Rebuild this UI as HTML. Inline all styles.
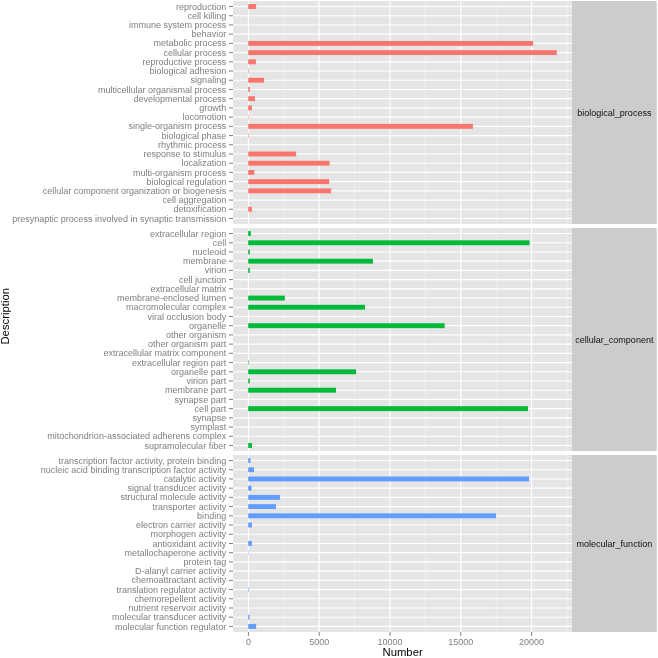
<!DOCTYPE html>
<html lang="en"><head><meta charset="utf-8"><title>GO classification</title>
<style>html,body{margin:0;padding:0;background:#fff}svg{display:block;filter:blur(0.35px)}text{font-family:"Liberation Sans",Arial,Helvetica,sans-serif}.al{font-size:9.02px;fill:#7F7F7F}.st{font-size:9.02px;fill:#111}.ti{font-size:11.3px;fill:#000}</style></head><body>
<svg width="658" height="658" viewBox="0 0 658 658">
<rect width="658" height="658" fill="#fff"/>
<g>
<rect x="233.00" y="1.00" width="339.00" height="223.03" fill="#E5E5E5"/>
<line x1="283.80" x2="283.80" y1="1.00" y2="224.03" stroke="#F2F2F2" stroke-width="0.7"/>
<line x1="354.60" x2="354.60" y1="1.00" y2="224.03" stroke="#F2F2F2" stroke-width="0.7"/>
<line x1="425.40" x2="425.40" y1="1.00" y2="224.03" stroke="#F2F2F2" stroke-width="0.7"/>
<line x1="496.20" x2="496.20" y1="1.00" y2="224.03" stroke="#F2F2F2" stroke-width="0.7"/>
<line x1="567.00" x2="567.00" y1="1.00" y2="224.03" stroke="#F2F2F2" stroke-width="0.7"/>
<line x1="233.00" x2="572.00" y1="6.53" y2="6.53" stroke="#fff" stroke-width="1.15"/>
<line x1="233.00" x2="572.00" y1="15.75" y2="15.75" stroke="#fff" stroke-width="1.15"/>
<line x1="233.00" x2="572.00" y1="24.96" y2="24.96" stroke="#fff" stroke-width="1.15"/>
<line x1="233.00" x2="572.00" y1="34.18" y2="34.18" stroke="#fff" stroke-width="1.15"/>
<line x1="233.00" x2="572.00" y1="43.39" y2="43.39" stroke="#fff" stroke-width="1.15"/>
<line x1="233.00" x2="572.00" y1="52.61" y2="52.61" stroke="#fff" stroke-width="1.15"/>
<line x1="233.00" x2="572.00" y1="61.83" y2="61.83" stroke="#fff" stroke-width="1.15"/>
<line x1="233.00" x2="572.00" y1="71.04" y2="71.04" stroke="#fff" stroke-width="1.15"/>
<line x1="233.00" x2="572.00" y1="80.26" y2="80.26" stroke="#fff" stroke-width="1.15"/>
<line x1="233.00" x2="572.00" y1="89.47" y2="89.47" stroke="#fff" stroke-width="1.15"/>
<line x1="233.00" x2="572.00" y1="98.69" y2="98.69" stroke="#fff" stroke-width="1.15"/>
<line x1="233.00" x2="572.00" y1="107.91" y2="107.91" stroke="#fff" stroke-width="1.15"/>
<line x1="233.00" x2="572.00" y1="117.12" y2="117.12" stroke="#fff" stroke-width="1.15"/>
<line x1="233.00" x2="572.00" y1="126.34" y2="126.34" stroke="#fff" stroke-width="1.15"/>
<line x1="233.00" x2="572.00" y1="135.55" y2="135.55" stroke="#fff" stroke-width="1.15"/>
<line x1="233.00" x2="572.00" y1="144.77" y2="144.77" stroke="#fff" stroke-width="1.15"/>
<line x1="233.00" x2="572.00" y1="153.99" y2="153.99" stroke="#fff" stroke-width="1.15"/>
<line x1="233.00" x2="572.00" y1="163.20" y2="163.20" stroke="#fff" stroke-width="1.15"/>
<line x1="233.00" x2="572.00" y1="172.42" y2="172.42" stroke="#fff" stroke-width="1.15"/>
<line x1="233.00" x2="572.00" y1="181.63" y2="181.63" stroke="#fff" stroke-width="1.15"/>
<line x1="233.00" x2="572.00" y1="190.85" y2="190.85" stroke="#fff" stroke-width="1.15"/>
<line x1="233.00" x2="572.00" y1="200.07" y2="200.07" stroke="#fff" stroke-width="1.15"/>
<line x1="233.00" x2="572.00" y1="209.28" y2="209.28" stroke="#fff" stroke-width="1.15"/>
<line x1="233.00" x2="572.00" y1="218.50" y2="218.50" stroke="#fff" stroke-width="1.15"/>
<line x1="248.40" x2="248.40" y1="1.00" y2="224.03" stroke="#fff" stroke-width="1.15"/>
<line x1="319.20" x2="319.20" y1="1.00" y2="224.03" stroke="#fff" stroke-width="1.15"/>
<line x1="390.00" x2="390.00" y1="1.00" y2="224.03" stroke="#fff" stroke-width="1.15"/>
<line x1="460.80" x2="460.80" y1="1.00" y2="224.03" stroke="#fff" stroke-width="1.15"/>
<line x1="531.60" x2="531.60" y1="1.00" y2="224.03" stroke="#fff" stroke-width="1.15"/>
<rect x="248.20" y="4.08" width="7.90" height="4.90" fill="#F8766D"/>
<rect x="248.20" y="40.94" width="284.90" height="4.90" fill="#F8766D"/>
<rect x="248.20" y="50.16" width="308.60" height="4.90" fill="#F8766D"/>
<rect x="248.20" y="59.38" width="7.70" height="4.90" fill="#F8766D"/>
<rect x="248.20" y="68.59" width="0.50" height="4.90" fill="#F8766D"/>
<rect x="248.20" y="77.81" width="15.90" height="4.90" fill="#F8766D"/>
<rect x="248.20" y="87.02" width="1.60" height="4.90" fill="#F8766D"/>
<rect x="248.20" y="96.24" width="6.80" height="4.90" fill="#F8766D"/>
<rect x="248.20" y="105.46" width="3.70" height="4.90" fill="#F8766D"/>
<rect x="248.20" y="114.67" width="0.40" height="4.90" fill="#F8766D"/>
<rect x="248.20" y="123.89" width="224.70" height="4.90" fill="#F8766D"/>
<rect x="248.20" y="133.10" width="0.50" height="4.90" fill="#F8766D"/>
<rect x="248.20" y="151.54" width="47.90" height="4.90" fill="#F8766D"/>
<rect x="248.20" y="160.75" width="81.30" height="4.90" fill="#F8766D"/>
<rect x="248.20" y="169.97" width="6.10" height="4.90" fill="#F8766D"/>
<rect x="248.20" y="179.18" width="81.00" height="4.90" fill="#F8766D"/>
<rect x="248.20" y="188.40" width="82.90" height="4.90" fill="#F8766D"/>
<rect x="248.20" y="206.83" width="3.70" height="4.90" fill="#F8766D"/>
<rect x="572.00" y="1.00" width="84.70" height="223.03" fill="#CCCCCC"/>
<text class="st" x="614.35" y="116.11" text-anchor="middle">biological_process</text>
<line x1="229.00" x2="233.00" y1="6.53" y2="6.53" stroke="#7F7F7F" stroke-width="1.0"/>
<text class="al" x="226.20" y="9.63" text-anchor="end">reproduction</text>
<line x1="229.00" x2="233.00" y1="15.75" y2="15.75" stroke="#7F7F7F" stroke-width="1.0"/>
<text class="al" x="226.20" y="18.85" text-anchor="end">cell killing</text>
<line x1="229.00" x2="233.00" y1="24.96" y2="24.96" stroke="#7F7F7F" stroke-width="1.0"/>
<text class="al" x="226.20" y="28.06" text-anchor="end">immune system process</text>
<line x1="229.00" x2="233.00" y1="34.18" y2="34.18" stroke="#7F7F7F" stroke-width="1.0"/>
<text class="al" x="226.20" y="37.28" text-anchor="end">behavior</text>
<line x1="229.00" x2="233.00" y1="43.39" y2="43.39" stroke="#7F7F7F" stroke-width="1.0"/>
<text class="al" x="226.20" y="46.49" text-anchor="end">metabolic process</text>
<line x1="229.00" x2="233.00" y1="52.61" y2="52.61" stroke="#7F7F7F" stroke-width="1.0"/>
<text class="al" x="226.20" y="55.71" text-anchor="end">cellular process</text>
<line x1="229.00" x2="233.00" y1="61.83" y2="61.83" stroke="#7F7F7F" stroke-width="1.0"/>
<text class="al" x="226.20" y="64.93" text-anchor="end">reproductive process</text>
<line x1="229.00" x2="233.00" y1="71.04" y2="71.04" stroke="#7F7F7F" stroke-width="1.0"/>
<text class="al" x="226.20" y="74.14" text-anchor="end">biological adhesion</text>
<line x1="229.00" x2="233.00" y1="80.26" y2="80.26" stroke="#7F7F7F" stroke-width="1.0"/>
<text class="al" x="226.20" y="83.36" text-anchor="end">signaling</text>
<line x1="229.00" x2="233.00" y1="89.47" y2="89.47" stroke="#7F7F7F" stroke-width="1.0"/>
<text class="al" x="226.20" y="92.57" text-anchor="end">multicellular organismal process</text>
<line x1="229.00" x2="233.00" y1="98.69" y2="98.69" stroke="#7F7F7F" stroke-width="1.0"/>
<text class="al" x="226.20" y="101.79" text-anchor="end">developmental process</text>
<line x1="229.00" x2="233.00" y1="107.91" y2="107.91" stroke="#7F7F7F" stroke-width="1.0"/>
<text class="al" x="226.20" y="111.01" text-anchor="end">growth</text>
<line x1="229.00" x2="233.00" y1="117.12" y2="117.12" stroke="#7F7F7F" stroke-width="1.0"/>
<text class="al" x="226.20" y="120.22" text-anchor="end">locomotion</text>
<line x1="229.00" x2="233.00" y1="126.34" y2="126.34" stroke="#7F7F7F" stroke-width="1.0"/>
<text class="al" x="226.20" y="129.44" text-anchor="end">single-organism process</text>
<line x1="229.00" x2="233.00" y1="135.55" y2="135.55" stroke="#7F7F7F" stroke-width="1.0"/>
<text class="al" x="226.20" y="138.65" text-anchor="end">biological phase</text>
<line x1="229.00" x2="233.00" y1="144.77" y2="144.77" stroke="#7F7F7F" stroke-width="1.0"/>
<text class="al" x="226.20" y="147.87" text-anchor="end">rhythmic process</text>
<line x1="229.00" x2="233.00" y1="153.99" y2="153.99" stroke="#7F7F7F" stroke-width="1.0"/>
<text class="al" x="226.20" y="157.09" text-anchor="end">response to stimulus</text>
<line x1="229.00" x2="233.00" y1="163.20" y2="163.20" stroke="#7F7F7F" stroke-width="1.0"/>
<text class="al" x="226.20" y="166.30" text-anchor="end">localization</text>
<line x1="229.00" x2="233.00" y1="172.42" y2="172.42" stroke="#7F7F7F" stroke-width="1.0"/>
<text class="al" x="226.20" y="175.52" text-anchor="end">multi-organism process</text>
<line x1="229.00" x2="233.00" y1="181.63" y2="181.63" stroke="#7F7F7F" stroke-width="1.0"/>
<text class="al" x="226.20" y="184.73" text-anchor="end">biological regulation</text>
<line x1="229.00" x2="233.00" y1="190.85" y2="190.85" stroke="#7F7F7F" stroke-width="1.0"/>
<text class="al" x="226.20" y="193.95" text-anchor="end">cellular component organization or biogenesis</text>
<line x1="229.00" x2="233.00" y1="200.07" y2="200.07" stroke="#7F7F7F" stroke-width="1.0"/>
<text class="al" x="226.20" y="203.17" text-anchor="end">cell aggregation</text>
<line x1="229.00" x2="233.00" y1="209.28" y2="209.28" stroke="#7F7F7F" stroke-width="1.0"/>
<text class="al" x="226.20" y="212.38" text-anchor="end">detoxification</text>
<line x1="229.00" x2="233.00" y1="218.50" y2="218.50" stroke="#7F7F7F" stroke-width="1.0"/>
<text class="al" x="226.20" y="221.60" text-anchor="end">presynaptic process involved in synaptic transmission</text>
</g>
<g>
<rect x="233.00" y="228.00" width="339.00" height="223.03" fill="#E5E5E5"/>
<line x1="283.80" x2="283.80" y1="228.00" y2="451.03" stroke="#F2F2F2" stroke-width="0.7"/>
<line x1="354.60" x2="354.60" y1="228.00" y2="451.03" stroke="#F2F2F2" stroke-width="0.7"/>
<line x1="425.40" x2="425.40" y1="228.00" y2="451.03" stroke="#F2F2F2" stroke-width="0.7"/>
<line x1="496.20" x2="496.20" y1="228.00" y2="451.03" stroke="#F2F2F2" stroke-width="0.7"/>
<line x1="567.00" x2="567.00" y1="228.00" y2="451.03" stroke="#F2F2F2" stroke-width="0.7"/>
<line x1="233.00" x2="572.00" y1="233.53" y2="233.53" stroke="#fff" stroke-width="1.15"/>
<line x1="233.00" x2="572.00" y1="242.75" y2="242.75" stroke="#fff" stroke-width="1.15"/>
<line x1="233.00" x2="572.00" y1="251.96" y2="251.96" stroke="#fff" stroke-width="1.15"/>
<line x1="233.00" x2="572.00" y1="261.18" y2="261.18" stroke="#fff" stroke-width="1.15"/>
<line x1="233.00" x2="572.00" y1="270.39" y2="270.39" stroke="#fff" stroke-width="1.15"/>
<line x1="233.00" x2="572.00" y1="279.61" y2="279.61" stroke="#fff" stroke-width="1.15"/>
<line x1="233.00" x2="572.00" y1="288.83" y2="288.83" stroke="#fff" stroke-width="1.15"/>
<line x1="233.00" x2="572.00" y1="298.04" y2="298.04" stroke="#fff" stroke-width="1.15"/>
<line x1="233.00" x2="572.00" y1="307.26" y2="307.26" stroke="#fff" stroke-width="1.15"/>
<line x1="233.00" x2="572.00" y1="316.47" y2="316.47" stroke="#fff" stroke-width="1.15"/>
<line x1="233.00" x2="572.00" y1="325.69" y2="325.69" stroke="#fff" stroke-width="1.15"/>
<line x1="233.00" x2="572.00" y1="334.91" y2="334.91" stroke="#fff" stroke-width="1.15"/>
<line x1="233.00" x2="572.00" y1="344.12" y2="344.12" stroke="#fff" stroke-width="1.15"/>
<line x1="233.00" x2="572.00" y1="353.34" y2="353.34" stroke="#fff" stroke-width="1.15"/>
<line x1="233.00" x2="572.00" y1="362.55" y2="362.55" stroke="#fff" stroke-width="1.15"/>
<line x1="233.00" x2="572.00" y1="371.77" y2="371.77" stroke="#fff" stroke-width="1.15"/>
<line x1="233.00" x2="572.00" y1="380.99" y2="380.99" stroke="#fff" stroke-width="1.15"/>
<line x1="233.00" x2="572.00" y1="390.20" y2="390.20" stroke="#fff" stroke-width="1.15"/>
<line x1="233.00" x2="572.00" y1="399.42" y2="399.42" stroke="#fff" stroke-width="1.15"/>
<line x1="233.00" x2="572.00" y1="408.63" y2="408.63" stroke="#fff" stroke-width="1.15"/>
<line x1="233.00" x2="572.00" y1="417.85" y2="417.85" stroke="#fff" stroke-width="1.15"/>
<line x1="233.00" x2="572.00" y1="427.07" y2="427.07" stroke="#fff" stroke-width="1.15"/>
<line x1="233.00" x2="572.00" y1="436.28" y2="436.28" stroke="#fff" stroke-width="1.15"/>
<line x1="233.00" x2="572.00" y1="445.50" y2="445.50" stroke="#fff" stroke-width="1.15"/>
<line x1="248.40" x2="248.40" y1="228.00" y2="451.03" stroke="#fff" stroke-width="1.15"/>
<line x1="319.20" x2="319.20" y1="228.00" y2="451.03" stroke="#fff" stroke-width="1.15"/>
<line x1="390.00" x2="390.00" y1="228.00" y2="451.03" stroke="#fff" stroke-width="1.15"/>
<line x1="460.80" x2="460.80" y1="228.00" y2="451.03" stroke="#fff" stroke-width="1.15"/>
<line x1="531.60" x2="531.60" y1="228.00" y2="451.03" stroke="#fff" stroke-width="1.15"/>
<rect x="248.20" y="231.08" width="2.60" height="4.90" fill="#00BA38"/>
<rect x="248.20" y="240.30" width="281.30" height="4.90" fill="#00BA38"/>
<rect x="248.20" y="249.51" width="1.60" height="4.90" fill="#00BA38"/>
<rect x="248.20" y="258.73" width="124.70" height="4.90" fill="#00BA38"/>
<rect x="248.20" y="267.94" width="1.60" height="4.90" fill="#00BA38"/>
<rect x="248.20" y="295.59" width="36.60" height="4.90" fill="#00BA38"/>
<rect x="248.20" y="304.81" width="116.80" height="4.90" fill="#00BA38"/>
<rect x="248.20" y="323.24" width="196.40" height="4.90" fill="#00BA38"/>
<rect x="248.20" y="360.10" width="0.50" height="4.90" fill="#00BA38"/>
<rect x="248.20" y="369.32" width="107.80" height="4.90" fill="#00BA38"/>
<rect x="248.20" y="378.54" width="1.60" height="4.90" fill="#00BA38"/>
<rect x="248.20" y="387.75" width="87.80" height="4.90" fill="#00BA38"/>
<rect x="248.20" y="406.18" width="279.80" height="4.90" fill="#00BA38"/>
<rect x="248.20" y="443.05" width="3.70" height="4.90" fill="#00BA38"/>
<rect x="572.00" y="228.00" width="84.70" height="223.03" fill="#CCCCCC"/>
<text class="st" x="614.35" y="343.11" text-anchor="middle">cellular_component</text>
<line x1="229.00" x2="233.00" y1="233.53" y2="233.53" stroke="#7F7F7F" stroke-width="1.0"/>
<text class="al" x="226.20" y="236.63" text-anchor="end">extracellular region</text>
<line x1="229.00" x2="233.00" y1="242.75" y2="242.75" stroke="#7F7F7F" stroke-width="1.0"/>
<text class="al" x="226.20" y="245.85" text-anchor="end">cell</text>
<line x1="229.00" x2="233.00" y1="251.96" y2="251.96" stroke="#7F7F7F" stroke-width="1.0"/>
<text class="al" x="226.20" y="255.06" text-anchor="end">nucleoid</text>
<line x1="229.00" x2="233.00" y1="261.18" y2="261.18" stroke="#7F7F7F" stroke-width="1.0"/>
<text class="al" x="226.20" y="264.28" text-anchor="end">membrane</text>
<line x1="229.00" x2="233.00" y1="270.39" y2="270.39" stroke="#7F7F7F" stroke-width="1.0"/>
<text class="al" x="226.20" y="273.49" text-anchor="end">virion</text>
<line x1="229.00" x2="233.00" y1="279.61" y2="279.61" stroke="#7F7F7F" stroke-width="1.0"/>
<text class="al" x="226.20" y="282.71" text-anchor="end">cell junction</text>
<line x1="229.00" x2="233.00" y1="288.83" y2="288.83" stroke="#7F7F7F" stroke-width="1.0"/>
<text class="al" x="226.20" y="291.93" text-anchor="end">extracellular matrix</text>
<line x1="229.00" x2="233.00" y1="298.04" y2="298.04" stroke="#7F7F7F" stroke-width="1.0"/>
<text class="al" x="226.20" y="301.14" text-anchor="end">membrane-enclosed lumen</text>
<line x1="229.00" x2="233.00" y1="307.26" y2="307.26" stroke="#7F7F7F" stroke-width="1.0"/>
<text class="al" x="226.20" y="310.36" text-anchor="end">macromolecular complex</text>
<line x1="229.00" x2="233.00" y1="316.47" y2="316.47" stroke="#7F7F7F" stroke-width="1.0"/>
<text class="al" x="226.20" y="319.57" text-anchor="end">viral occlusion body</text>
<line x1="229.00" x2="233.00" y1="325.69" y2="325.69" stroke="#7F7F7F" stroke-width="1.0"/>
<text class="al" x="226.20" y="328.79" text-anchor="end">organelle</text>
<line x1="229.00" x2="233.00" y1="334.91" y2="334.91" stroke="#7F7F7F" stroke-width="1.0"/>
<text class="al" x="226.20" y="338.01" text-anchor="end">other organism</text>
<line x1="229.00" x2="233.00" y1="344.12" y2="344.12" stroke="#7F7F7F" stroke-width="1.0"/>
<text class="al" x="226.20" y="347.22" text-anchor="end">other organism part</text>
<line x1="229.00" x2="233.00" y1="353.34" y2="353.34" stroke="#7F7F7F" stroke-width="1.0"/>
<text class="al" x="226.20" y="356.44" text-anchor="end">extracellular matrix component</text>
<line x1="229.00" x2="233.00" y1="362.55" y2="362.55" stroke="#7F7F7F" stroke-width="1.0"/>
<text class="al" x="226.20" y="365.65" text-anchor="end">extracellular region part</text>
<line x1="229.00" x2="233.00" y1="371.77" y2="371.77" stroke="#7F7F7F" stroke-width="1.0"/>
<text class="al" x="226.20" y="374.87" text-anchor="end">organelle part</text>
<line x1="229.00" x2="233.00" y1="380.99" y2="380.99" stroke="#7F7F7F" stroke-width="1.0"/>
<text class="al" x="226.20" y="384.09" text-anchor="end">virion part</text>
<line x1="229.00" x2="233.00" y1="390.20" y2="390.20" stroke="#7F7F7F" stroke-width="1.0"/>
<text class="al" x="226.20" y="393.30" text-anchor="end">membrane part</text>
<line x1="229.00" x2="233.00" y1="399.42" y2="399.42" stroke="#7F7F7F" stroke-width="1.0"/>
<text class="al" x="226.20" y="402.52" text-anchor="end">synapse part</text>
<line x1="229.00" x2="233.00" y1="408.63" y2="408.63" stroke="#7F7F7F" stroke-width="1.0"/>
<text class="al" x="226.20" y="411.73" text-anchor="end">cell part</text>
<line x1="229.00" x2="233.00" y1="417.85" y2="417.85" stroke="#7F7F7F" stroke-width="1.0"/>
<text class="al" x="226.20" y="420.95" text-anchor="end">synapse</text>
<line x1="229.00" x2="233.00" y1="427.07" y2="427.07" stroke="#7F7F7F" stroke-width="1.0"/>
<text class="al" x="226.20" y="430.17" text-anchor="end">symplast</text>
<line x1="229.00" x2="233.00" y1="436.28" y2="436.28" stroke="#7F7F7F" stroke-width="1.0"/>
<text class="al" x="226.20" y="439.38" text-anchor="end">mitochondrion-associated adherens complex</text>
<line x1="229.00" x2="233.00" y1="445.50" y2="445.50" stroke="#7F7F7F" stroke-width="1.0"/>
<text class="al" x="226.20" y="448.60" text-anchor="end">supramolecular fiber</text>
</g>
<g>
<rect x="233.00" y="455.00" width="339.00" height="176.95" fill="#E5E5E5"/>
<line x1="283.80" x2="283.80" y1="455.00" y2="631.95" stroke="#F2F2F2" stroke-width="0.7"/>
<line x1="354.60" x2="354.60" y1="455.00" y2="631.95" stroke="#F2F2F2" stroke-width="0.7"/>
<line x1="425.40" x2="425.40" y1="455.00" y2="631.95" stroke="#F2F2F2" stroke-width="0.7"/>
<line x1="496.20" x2="496.20" y1="455.00" y2="631.95" stroke="#F2F2F2" stroke-width="0.7"/>
<line x1="567.00" x2="567.00" y1="455.00" y2="631.95" stroke="#F2F2F2" stroke-width="0.7"/>
<line x1="233.00" x2="572.00" y1="460.53" y2="460.53" stroke="#fff" stroke-width="1.15"/>
<line x1="233.00" x2="572.00" y1="469.75" y2="469.75" stroke="#fff" stroke-width="1.15"/>
<line x1="233.00" x2="572.00" y1="478.96" y2="478.96" stroke="#fff" stroke-width="1.15"/>
<line x1="233.00" x2="572.00" y1="488.18" y2="488.18" stroke="#fff" stroke-width="1.15"/>
<line x1="233.00" x2="572.00" y1="497.39" y2="497.39" stroke="#fff" stroke-width="1.15"/>
<line x1="233.00" x2="572.00" y1="506.61" y2="506.61" stroke="#fff" stroke-width="1.15"/>
<line x1="233.00" x2="572.00" y1="515.83" y2="515.83" stroke="#fff" stroke-width="1.15"/>
<line x1="233.00" x2="572.00" y1="525.04" y2="525.04" stroke="#fff" stroke-width="1.15"/>
<line x1="233.00" x2="572.00" y1="534.26" y2="534.26" stroke="#fff" stroke-width="1.15"/>
<line x1="233.00" x2="572.00" y1="543.47" y2="543.47" stroke="#fff" stroke-width="1.15"/>
<line x1="233.00" x2="572.00" y1="552.69" y2="552.69" stroke="#fff" stroke-width="1.15"/>
<line x1="233.00" x2="572.00" y1="561.91" y2="561.91" stroke="#fff" stroke-width="1.15"/>
<line x1="233.00" x2="572.00" y1="571.12" y2="571.12" stroke="#fff" stroke-width="1.15"/>
<line x1="233.00" x2="572.00" y1="580.34" y2="580.34" stroke="#fff" stroke-width="1.15"/>
<line x1="233.00" x2="572.00" y1="589.55" y2="589.55" stroke="#fff" stroke-width="1.15"/>
<line x1="233.00" x2="572.00" y1="598.77" y2="598.77" stroke="#fff" stroke-width="1.15"/>
<line x1="233.00" x2="572.00" y1="607.99" y2="607.99" stroke="#fff" stroke-width="1.15"/>
<line x1="233.00" x2="572.00" y1="617.20" y2="617.20" stroke="#fff" stroke-width="1.15"/>
<line x1="233.00" x2="572.00" y1="626.42" y2="626.42" stroke="#fff" stroke-width="1.15"/>
<line x1="248.40" x2="248.40" y1="455.00" y2="631.95" stroke="#fff" stroke-width="1.15"/>
<line x1="319.20" x2="319.20" y1="455.00" y2="631.95" stroke="#fff" stroke-width="1.15"/>
<line x1="390.00" x2="390.00" y1="455.00" y2="631.95" stroke="#fff" stroke-width="1.15"/>
<line x1="460.80" x2="460.80" y1="455.00" y2="631.95" stroke="#fff" stroke-width="1.15"/>
<line x1="531.60" x2="531.60" y1="455.00" y2="631.95" stroke="#fff" stroke-width="1.15"/>
<rect x="248.20" y="458.08" width="2.30" height="4.90" fill="#619CFF"/>
<rect x="248.20" y="467.30" width="5.80" height="4.90" fill="#619CFF"/>
<rect x="248.20" y="476.51" width="280.80" height="4.90" fill="#619CFF"/>
<rect x="248.20" y="485.73" width="3.30" height="4.90" fill="#619CFF"/>
<rect x="248.20" y="494.94" width="31.70" height="4.90" fill="#619CFF"/>
<rect x="248.20" y="504.16" width="27.80" height="4.90" fill="#619CFF"/>
<rect x="248.20" y="513.38" width="247.90" height="4.90" fill="#619CFF"/>
<rect x="248.20" y="522.59" width="3.70" height="4.90" fill="#619CFF"/>
<rect x="248.20" y="541.02" width="3.70" height="4.90" fill="#619CFF"/>
<rect x="248.20" y="550.24" width="0.35" height="4.90" fill="#619CFF"/>
<rect x="248.20" y="587.10" width="0.50" height="4.90" fill="#619CFF"/>
<rect x="248.20" y="614.75" width="1.30" height="4.90" fill="#619CFF"/>
<rect x="248.20" y="623.97" width="8.00" height="4.90" fill="#619CFF"/>
<rect x="572.00" y="455.00" width="84.70" height="176.95" fill="#CCCCCC"/>
<text class="st" x="614.35" y="547.07" text-anchor="middle">molecular_function</text>
<line x1="229.00" x2="233.00" y1="460.53" y2="460.53" stroke="#7F7F7F" stroke-width="1.0"/>
<text class="al" x="226.20" y="463.63" text-anchor="end">transcription factor activity, protein binding</text>
<line x1="229.00" x2="233.00" y1="469.75" y2="469.75" stroke="#7F7F7F" stroke-width="1.0"/>
<text class="al" x="226.20" y="472.85" text-anchor="end">nucleic acid binding transcription factor activity</text>
<line x1="229.00" x2="233.00" y1="478.96" y2="478.96" stroke="#7F7F7F" stroke-width="1.0"/>
<text class="al" x="226.20" y="482.06" text-anchor="end">catalytic activity</text>
<line x1="229.00" x2="233.00" y1="488.18" y2="488.18" stroke="#7F7F7F" stroke-width="1.0"/>
<text class="al" x="226.20" y="491.28" text-anchor="end">signal transducer activity</text>
<line x1="229.00" x2="233.00" y1="497.39" y2="497.39" stroke="#7F7F7F" stroke-width="1.0"/>
<text class="al" x="226.20" y="500.49" text-anchor="end">structural molecule activity</text>
<line x1="229.00" x2="233.00" y1="506.61" y2="506.61" stroke="#7F7F7F" stroke-width="1.0"/>
<text class="al" x="226.20" y="509.71" text-anchor="end">transporter activity</text>
<line x1="229.00" x2="233.00" y1="515.83" y2="515.83" stroke="#7F7F7F" stroke-width="1.0"/>
<text class="al" x="226.20" y="518.93" text-anchor="end">binding</text>
<line x1="229.00" x2="233.00" y1="525.04" y2="525.04" stroke="#7F7F7F" stroke-width="1.0"/>
<text class="al" x="226.20" y="528.14" text-anchor="end">electron carrier activity</text>
<line x1="229.00" x2="233.00" y1="534.26" y2="534.26" stroke="#7F7F7F" stroke-width="1.0"/>
<text class="al" x="226.20" y="537.36" text-anchor="end">morphogen activity</text>
<line x1="229.00" x2="233.00" y1="543.47" y2="543.47" stroke="#7F7F7F" stroke-width="1.0"/>
<text class="al" x="226.20" y="546.57" text-anchor="end">antioxidant activity</text>
<line x1="229.00" x2="233.00" y1="552.69" y2="552.69" stroke="#7F7F7F" stroke-width="1.0"/>
<text class="al" x="226.20" y="555.79" text-anchor="end">metallochaperone activity</text>
<line x1="229.00" x2="233.00" y1="561.91" y2="561.91" stroke="#7F7F7F" stroke-width="1.0"/>
<text class="al" x="226.20" y="565.01" text-anchor="end">protein tag</text>
<line x1="229.00" x2="233.00" y1="571.12" y2="571.12" stroke="#7F7F7F" stroke-width="1.0"/>
<text class="al" x="226.20" y="574.22" text-anchor="end">D-alanyl carrier activity</text>
<line x1="229.00" x2="233.00" y1="580.34" y2="580.34" stroke="#7F7F7F" stroke-width="1.0"/>
<text class="al" x="226.20" y="583.44" text-anchor="end">chemoattractant activity</text>
<line x1="229.00" x2="233.00" y1="589.55" y2="589.55" stroke="#7F7F7F" stroke-width="1.0"/>
<text class="al" x="226.20" y="592.65" text-anchor="end">translation regulator activity</text>
<line x1="229.00" x2="233.00" y1="598.77" y2="598.77" stroke="#7F7F7F" stroke-width="1.0"/>
<text class="al" x="226.20" y="601.87" text-anchor="end">chemorepellent activity</text>
<line x1="229.00" x2="233.00" y1="607.99" y2="607.99" stroke="#7F7F7F" stroke-width="1.0"/>
<text class="al" x="226.20" y="611.09" text-anchor="end">nutrient reservoir activity</text>
<line x1="229.00" x2="233.00" y1="617.20" y2="617.20" stroke="#7F7F7F" stroke-width="1.0"/>
<text class="al" x="226.20" y="620.30" text-anchor="end">molecular transducer activity</text>
<line x1="229.00" x2="233.00" y1="626.42" y2="626.42" stroke="#7F7F7F" stroke-width="1.0"/>
<text class="al" x="226.20" y="629.52" text-anchor="end">molecular function regulator</text>
</g>
<line x1="248.40" x2="248.40" y1="631.95" y2="635.95" stroke="#7F7F7F" stroke-width="1.0"/>
<text class="al" x="248.40" y="645.40" text-anchor="middle">0</text>
<line x1="319.20" x2="319.20" y1="631.95" y2="635.95" stroke="#7F7F7F" stroke-width="1.0"/>
<text class="al" x="319.20" y="645.40" text-anchor="middle">5000</text>
<line x1="390.00" x2="390.00" y1="631.95" y2="635.95" stroke="#7F7F7F" stroke-width="1.0"/>
<text class="al" x="390.00" y="645.40" text-anchor="middle">10000</text>
<line x1="460.80" x2="460.80" y1="631.95" y2="635.95" stroke="#7F7F7F" stroke-width="1.0"/>
<text class="al" x="460.80" y="645.40" text-anchor="middle">15000</text>
<line x1="531.60" x2="531.60" y1="631.95" y2="635.95" stroke="#7F7F7F" stroke-width="1.0"/>
<text class="al" x="531.60" y="645.40" text-anchor="middle">20000</text>
<text class="ti" x="402.6" y="656.3" text-anchor="middle">Number</text>
<text class="ti" transform="translate(9.0,316.3) rotate(-90)" text-anchor="middle">Description</text>
</svg></body></html>
